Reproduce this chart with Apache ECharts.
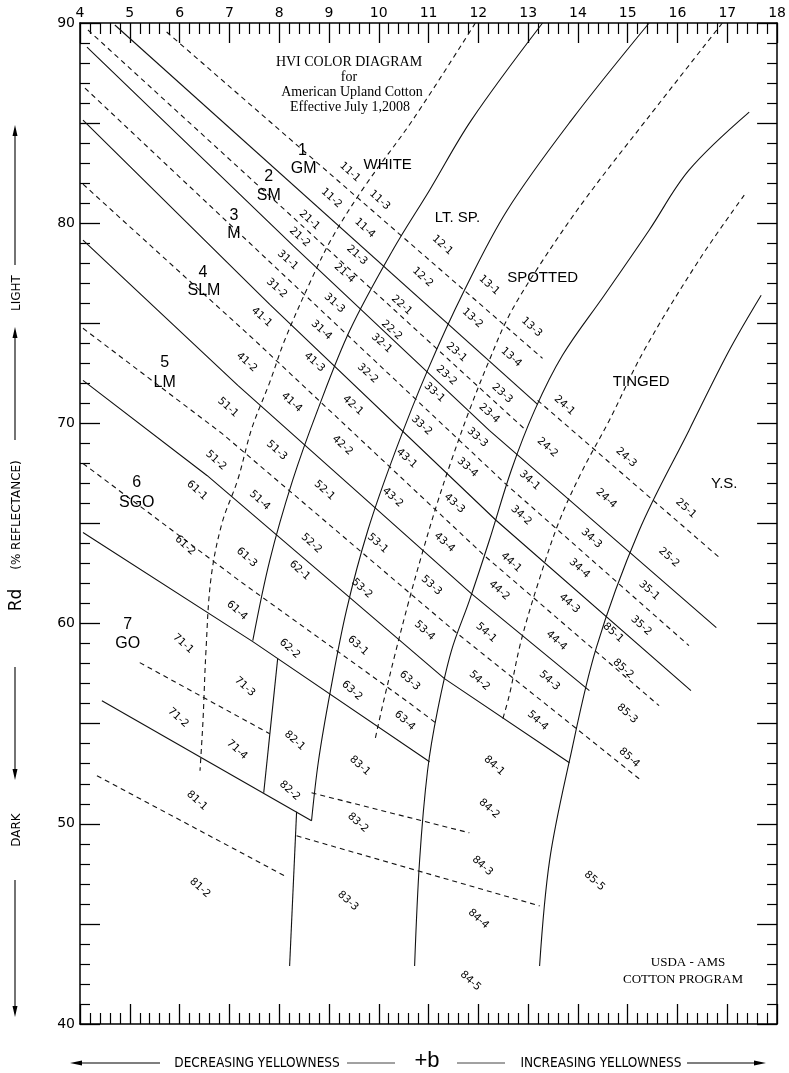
<!DOCTYPE html>
<html><head><meta charset="utf-8">
<script src="https://cdn.jsdelivr.net/npm/echarts@6/dist/echarts.min.js"></script>
<style>html,body{margin:0;padding:0;background:#fff}#c{width:789px;height:1073px}</style>
</head><body><div id="c"></div>
<script>
// ---- tick labels ----
const xTickLabels = [4,5,6,7,8,9,10,11,12,13,14,15,16,17,18];
const yTickLabels = [40,50,60,70,80,90];

// ---- colour-region curves [+b, Rd] ----
const curveWhiteDash = [[11.94,90],[10.68,85.15],[9.72,81.85],[9.07,79.3],[8.63,77.1],[8.11,74.15],[7.81,72.05],[7.45,69.75],[7.17,67.2],[6.85,65.0],[6.63,62.25],[6.53,58.65],[6.47,55.15],[6.41,52.65]];
const curveWhiteLtSp = [[13.29,90],[11.86,85.15],[11.02,81.65],[10.28,78.65],[9.42,74.65],[8.77,70.65],[8.27,67.15],[7.81,63.15],[7.47,59.15]];
const curveWhiteLtSpLow = [[7.97,58.25],[7.69,51.55]];
const curveLtSpSpot = [[15.43,90],[13.87,85.15],[12.58,80.65],[11.72,76.65],[10.98,72.65],[10.34,68.65],[9.78,64.65],[9.35,60.65],[9.03,56.65],[8.79,53.15],[8.65,50.15]];
const curveLtSpSpotLow = [[8.35,50.6],[8.21,42.9]];
const curveSpotDash = [[16.90,90],[15.37,85.15],[14.13,81.15],[13.23,77.9],[12.62,75.4],[12.22,73.15],[11.82,70.65],[11.46,68.15],[11.16,65.9],[10.86,63.4],[10.58,60.9],[10.32,58.4],[10.10,56.15],[9.92,54.15]];
const curveSpotTinged = [[17.44,85.55],[16.23,82.65],[15.43,79.65],[14.53,76.4],[13.69,73.4],[13.13,70.65],[12.66,67.65],[12.22,64.15],[11.82,61.15],[11.46,58.65],[11.18,55.65],[10.98,52.65],[10.82,48.15],[10.72,42.9]];
const curveTingedDash = [[17.34,81.4],[16.43,78.15],[15.33,73.65],[14.63,70.15],[14.09,67.65],[13.63,65.15],[13.23,62.25],[12.86,59.15],[12.62,56.4],[12.48,55.15]];
const curveTingedYS = [[17.68,76.4],[17.04,73.65],[16.23,69.65],[15.23,64.65],[14.37,58.8],[13.83,53.15],[13.43,48.15],[13.23,42.9]];

// ---- grade lines [+b, Rd] ----
const g1Dash = [[5.74,89.55],[13.29,73.25]];
const g12 = [[4.70,89.9],[13.19,70.95]];
const g2Dash = [[4.16,89.65],[12.96,69.65]];
const t2Dash = [[13.19,71.15],[16.84,63.3]];
const g23 = [[4.14,88.8],[8.29,78.85],[12.22,69.65],[16.78,59.8]];
const g3Dash = [[4.10,86.75],[12.56,66.95],[16.23,58.9]];
const g34 = [[4.06,85.15],[7.81,75.95],[12.36,65.15],[16.27,56.65]];
const g4Dash = [[4.06,81.95],[7.51,74.15],[12.12,63.4],[15.63,55.9]];
const g45 = [[4.06,79.15],[7.17,71.9],[11.86,61.5],[14.23,56.65]];
const g5Dash = [[4.06,74.75],[6.85,69.5],[11.58,59.5],[15.23,52.25]];
const g56 = [[4.06,72.15],[6.55,67.4],[11.32,57.25],[13.83,53.05]];
const g6Dash = [[4.06,68.0],[7.25,62.05],[10.58,56.1],[11.14,55.05]];
const g67 = [[4.06,64.55],[7.47,59.1],[11.02,53.1]];
const g7Dash = [[5.20,58.05],[7.81,54.5]];
const g78 = [[4.44,56.15],[8.65,50.15]];
const g8Dash = [[4.34,52.4],[8.11,47.4]];
const g83Dash = [[8.65,51.55],[11.82,49.55]];
const g84Dash = [[8.35,49.4],[13.23,45.9]];

const solidLines = [curveWhiteLtSp, curveWhiteLtSpLow, curveLtSpSpot, curveLtSpSpotLow, curveSpotTinged, curveTingedYS,
  g12, g23, g34, g45, g56, g67, g78];
const dashedLines = [curveWhiteDash, curveSpotDash, curveTingedDash,
  g1Dash, g2Dash, t2Dash, g3Dash, g4Dash, g5Dash, g6Dash, g7Dash, g8Dash, g83Dash, g84Dash];
const curves = [curveWhiteDash, curveWhiteLtSp, curveLtSpSpot, curveSpotDash, curveSpotTinged, curveTingedDash, curveTingedYS];

// ---- cell labels [text, +b, Rd] ----
const cellLabels = [
 ['11-1',9.42,82.55],['11-2',9.05,81.25],['11-3',10.02,81.15],['11-4',9.72,79.75],
 ['21-1',8.61,80.15],['21-2',8.41,79.3],['21-3',9.56,78.4],['21-4',9.31,77.5],
 ['31-1',8.17,78.15],['31-2',7.95,76.75],['31-3',9.11,76.0],['31-4',8.85,74.65],
 ['41-1',7.65,75.3],['41-2',7.35,73.05],['41-3',8.71,73.05],['41-4',8.25,71.05],
 ['51-1',6.97,70.8],['51-2',6.73,68.15],['51-3',7.95,68.65],['51-4',7.61,66.15],
 ['61-1',6.35,66.65],['61-2',6.11,63.9],['61-3',7.35,63.3],['61-4',7.15,60.65],
 ['71-1',6.07,59.0],['71-2',5.97,55.3],['71-3',7.31,56.85],['71-4',7.15,53.7],
 ['81-1',6.35,51.15],['81-2',6.41,46.8],
 ['12-1',11.28,78.9],['12-2',10.88,77.3],['22-1',10.46,75.9],['22-2',10.26,74.65],
 ['32-1',10.06,74.0],['32-2',9.78,72.5],['42-1',9.48,70.9],['42-2',9.27,68.9],
 ['52-1',8.91,66.65],['52-2',8.65,64.0],['62-1',8.41,62.65],['62-2',8.21,58.75],
 ['82-1',8.31,54.15],['82-2',8.21,51.65],
 ['13-1',12.22,76.9],['13-2',11.88,75.25],['13-3',13.07,74.8],['13-4',12.66,73.3],
 ['23-1',11.56,73.55],['23-2',11.36,72.4],['23-3',12.48,71.5],['23-4',12.22,70.5],
 ['33-1',11.12,71.55],['33-2',10.86,69.9],['33-3',11.98,69.3],['33-4',11.78,67.8],
 ['43-1',10.56,68.25],['43-2',10.28,66.3],['43-3',11.52,66.0],['43-4',11.32,64.05],
 ['53-1',9.98,64.0],['53-2',9.66,61.75],['53-3',11.06,61.9],['53-4',10.92,59.65],
 ['63-1',9.58,58.9],['63-2',9.46,56.65],['63-3',10.62,57.15],['63-4',10.52,55.15],
 ['83-1',9.62,52.9],['83-2',9.58,50.05],['83-3',9.38,46.15],
 ['24-1',13.73,70.9],['24-2',13.39,68.8],['24-3',14.97,68.3],['24-4',14.57,66.25],
 ['34-1',13.03,67.15],['34-2',12.86,65.4],['34-3',14.27,64.25],['34-4',14.03,62.75],
 ['44-1',12.66,63.05],['44-2',12.42,61.65],['44-3',13.83,61.0],['44-4',13.57,59.15],
 ['54-1',12.16,59.55],['54-2',12.02,57.15],['54-3',13.43,57.15],['54-4',13.19,55.15],
 ['84-1',12.32,52.9],['84-2',12.22,50.75],['84-3',12.08,47.9],['84-4',12.0,45.25],['84-5',11.84,42.15],
 ['25-1',16.17,65.75],['25-2',15.83,63.3],['35-1',15.43,61.65],['35-2',15.27,59.9],
 ['85-1',14.71,59.55],['85-2',14.91,57.75],['85-3',14.99,55.5],['85-4',15.03,53.3],['85-5',14.33,47.15]
];
// ---- grade and colour-group names [text, +b, Rd] ----
const gradeLabels = [
 ['1',8.47,83.65],['GM',8.49,82.75],['2',7.79,82.35],['SM',7.79,81.4],['3',7.09,80.4],['M',7.09,79.5],
 ['4',6.47,77.55],['SLM',6.49,76.65],['5',5.70,73.05],['LM',5.70,72.05],['6',5.14,67.05],['SGO',5.14,66.05],
 ['7',4.96,59.95],['GO',4.96,59.0]
];
const groupLabels = [['WHITE',10.18,82.9],['LT. SP.',11.58,80.25],['SPOTTED',13.29,77.25],['TINGED',15.27,72.05],['Y.S.',16.94,67.0]];

const chart = echarts.init(document.getElementById('c'), null, {renderer:'canvas'});
const black = '#111';
function lineSeries(arr, dashed){
  return {type:'line', data:arr, symbol:'none', silent:true, animation:false,
    smooth: curves.includes(arr) ? 0.35 : false,
    lineStyle:{color:black, width:1.1, type: dashed ? [5,4] : 'solid'}, z:3};
}
function textSeries(list, size, family, rot){
  return {type:'scatter', symbol:'circle', symbolSize:2, silent:true, animation:false, z:5,
    itemStyle:{color:'rgba(0,0,0,0)', opacity:1},
    labelLayout:{hideOverlap:false},
    data:list.map(d=>({name:d[0], value:[d[1],d[2]]})),
    label:{show:true, position:'inside', formatter:'{b}', rotate:rot, fontSize:size, color:'#000', opacity:1, fontFamily:family}};
}
const series = [];
solidLines.forEach(a=>series.push(lineSeries(a,false)));
dashedLines.forEach(a=>series.push(lineSeries(a,true)));
series.push(textSeries(cellLabels, 10.5, 'DejaVu Sans', -42));
series.push(textSeries(gradeLabels, 16, 'Liberation Sans', 0));
series.push(textSeries(groupLabels, 15, 'Liberation Sans', 0));

const axLine = {show:true, lineStyle:{color:'#000', width:1.5}};
function xAx(pos, labels){
  return {type:'value', position:pos, min:4, max:18, interval:1, gridIndex:0,
    axisLine:axLine, splitLine:{show:false},
    axisTick:{show:true, inside:true, length:20, lineStyle:{color:'#000', width:1.3}},
    minorTick:{show:true, splitNumber:5, length:11, lineStyle:{color:'#000', width:1.2}},
    axisLabel:{show:labels, fontSize:14, color:'#000', margin:3, fontFamily:'DejaVu Sans',
      formatter:v=>xTickLabels.includes(v)?String(v):''}};
}
function yAx(pos, labels){
  return {type:'value', position:pos, min:40, max:90, interval:5, gridIndex:0,
    axisLine:axLine, splitLine:{show:false},
    axisTick:{show:true, inside:true, length:20, lineStyle:{color:'#000', width:1.3}},
    minorTick:{show:true, splitNumber:5, length:10, lineStyle:{color:'#000', width:1.2}},
    axisLabel:{show:labels, fontSize:14, color:'#000', margin:5, fontFamily:'DejaVu Sans',
      formatter:v=>yTickLabels.includes(v)?String(v):''}};
}
function arrowV(x, y1, y2){
  const d = y2>y1 ? 1 : -1;
  return [
    {type:'line', shape:{x1:x,y1:y1,x2:x,y2:y2-d*6}, style:{stroke:'#000', lineWidth:1.1}},
    {type:'polygon', shape:{points:[[x,y2],[x-2.5,y2-d*11],[x+2.5,y2-d*11]]}, style:{fill:'#000'}}
  ];
}
function arrowH(x1, x2, y){
  const d = x2>x1 ? 1 : -1;
  return [
    {type:'line', shape:{x1:x1,y1:y,x2:x2-d*6,y2:y}, style:{stroke:'#000', lineWidth:1.1}},
    {type:'polygon', shape:{points:[[x2,y],[x2-d*12,y-2.5],[x2-d*12,y+2.5]]}, style:{fill:'#000'}}
  ];
}
const condensed = '"DejaVu Sans Condensed", "Liberation Sans Narrow", "DejaVu Sans"';
const graphic = [
  {type:'text', x:349, y:62, style:{text:'HVI COLOR DIAGRAM', font:'14px "Liberation Serif"', fill:'#000', align:'center', verticalAlign:'middle'}},
  {type:'text', x:349, y:77, style:{text:'for', font:'14px "Liberation Serif"', fill:'#000', align:'center', verticalAlign:'middle'}},
  {type:'text', x:352, y:92, style:{text:'American Upland Cotton', font:'14px "Liberation Serif"', fill:'#000', align:'center', verticalAlign:'middle'}},
  {type:'text', x:350, y:107, style:{text:'Effective July 1,2008', font:'14px "Liberation Serif"', fill:'#000', align:'center', verticalAlign:'middle'}},
  {type:'text', x:688, y:963, style:{text:'USDA - AMS', font:'13px "Liberation Serif"', fill:'#000', align:'center', verticalAlign:'middle'}},
  {type:'text', x:683, y:980, style:{text:'COTTON PROGRAM', font:'13px "Liberation Serif"', fill:'#000', align:'center', verticalAlign:'middle'}},
  {type:'text', x:17, y:293, rotation:Math.PI/2, style:{text:'LIGHT', font:'12px "DejaVu Sans"', fill:'#000', align:'center', verticalAlign:'middle'}},
  {type:'text', x:17, y:515, rotation:Math.PI/2, style:{text:'(% REFLECTANCE)', font:'12px "DejaVu Sans"', fill:'#000', align:'center', verticalAlign:'middle'}},
  {type:'text', x:17, y:600, rotation:Math.PI/2, style:{text:'Rd', font:'17px "DejaVu Sans"', fill:'#000', align:'center', verticalAlign:'middle'}},
  {type:'text', x:17, y:830, rotation:Math.PI/2, style:{text:'DARK', font:'12px "DejaVu Sans"', fill:'#000', align:'center', verticalAlign:'middle'}},
  ...arrowV(15,265,125), ...arrowV(15,440,327), ...arrowV(15,667,780), ...arrowV(15,880,1017),
  {type:'text', x:257, y:1063, style:{text:'DECREASING YELLOWNESS', font:'13.5px ' + condensed, fill:'#000', align:'center', verticalAlign:'middle'}},
  {type:'text', x:427, y:1061, style:{text:'+b', font:'22px "Liberation Sans"', fill:'#000', align:'center', verticalAlign:'middle'}},
  {type:'text', x:601, y:1063, style:{text:'INCREASING YELLOWNESS', font:'13.5px ' + condensed, fill:'#000', align:'center', verticalAlign:'middle'}},
  {type:'line', shape:{x1:347,y1:1063,x2:395,y2:1063}, style:{stroke:'#444', lineWidth:1}},
  {type:'line', shape:{x1:457,y1:1063,x2:505,y2:1063}, style:{stroke:'#444', lineWidth:1}},
  ...arrowH(160,70,1063), ...arrowH(687,766,1063)
];

chart.setOption({
  animation:false,
  backgroundColor:'#fff',
  grid:{left:80, top:23, width:698, height:1001, containLabel:false},
  xAxis:[xAx('top',true), xAx('bottom',false)],
  yAxis:[yAx('left',true), yAx('right',false)],
  series: series,
  graphic: graphic
});
</script></body></html>
